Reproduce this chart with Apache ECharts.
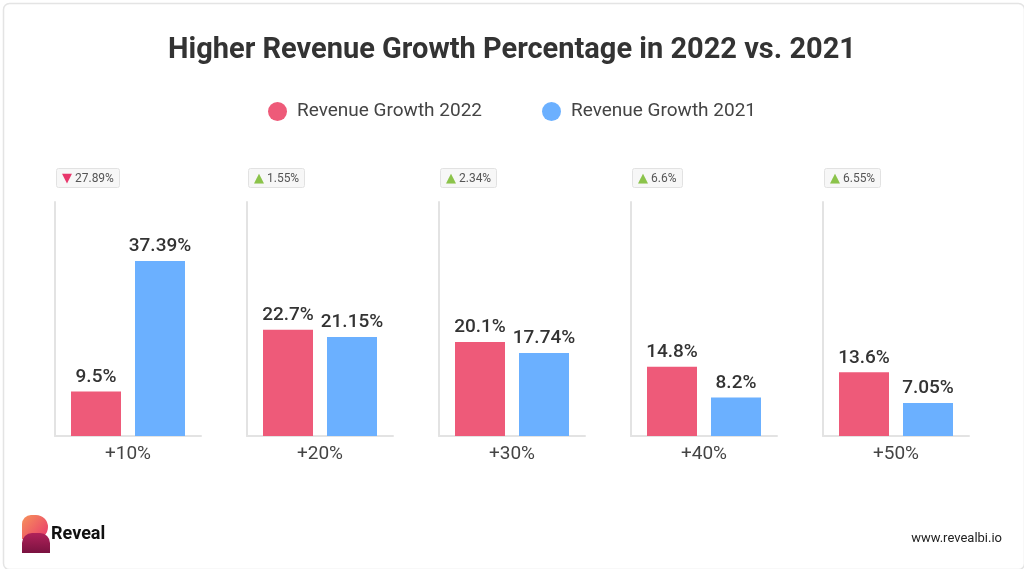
<!DOCTYPE html>
<html><head><meta charset="utf-8">
<script src="https://cdn.jsdelivr.net/npm/echarts@6/dist/echarts.min.js"></script>
<style>html,body{margin:0;padding:0;background:#fff}#c{width:1024px;height:569px}</style>
</head><body><div id="c"></div>
<script>
var categories = ['+10%', '+20%', '+30%', '+40%', '+50%'];
var growth2022 = [9.5, 22.7, 20.1, 14.8, 13.6];
var growth2021 = [37.39, 21.15, 17.74, 8.2, 7.05];
var changeValues = ['27.89%', '1.55%', '2.34%', '6.6%', '6.55%'];
var changeDir = ['down', 'up', 'up', 'up', 'up'];
var seriesNames = ['Revenue Growth 2022', 'Revenue Growth 2021'];
var PINK = '#EE5A79', BLUE = '#6BB0FF';

var chart = echarts.init(document.getElementById('c'));
var grids = [], xAxes = [], yAxes = [], series = [], titles = [];
titles.push({
  text: 'Higher Revenue Growth Percentage in 2022 vs. 2021',
  left: 'center', top: 31,
  textStyle: {fontFamily: 'Roboto', fontSize: 29, fontWeight: 'bold', color: '#333'}
});
for (var i = 0; i < categories.length; i++) {
  var left = 55 + 192 * i;
  grids.push({left: left, width: 146, top: 202, height: 234});
  xAxes.push({
    type: 'category', gridIndex: i, data: [categories[i]],
    axisLine: {show: true, lineStyle: {color: '#e3e3e3', width: 2}},
    axisTick: {show: false},
    axisLabel: {fontFamily: 'Roboto', fontSize: 19, color: '#444', margin: 9}
  });
  yAxes.push({
    type: 'value', gridIndex: i, min: 0, max: 50,
    axisLine: {show: true, lineStyle: {color: '#e3e3e3', width: 2}},
    axisTick: {show: false}, axisLabel: {show: false}, splitLine: {show: false}
  });
  var lbl = {show: true, position: 'top', distance: 5, fontFamily: 'Roboto', fontSize: 19,
    fontWeight: 500, color: '#333', formatter: '{c}%'};
  series.push({
    name: seriesNames[0], type: 'bar', xAxisIndex: i, yAxisIndex: i,
    data: [growth2022[i]], barWidth: 50, barGap: '28%',
    itemStyle: {color: PINK}, label: lbl
  });
  series.push({
    name: seriesNames[1], type: 'bar', xAxisIndex: i, yAxisIndex: i,
    data: [growth2021[i]], barWidth: 50, barGap: '28%',
    itemStyle: {color: BLUE}, label: lbl
  });
  var dir = changeDir[i];
  titles.push({
    text: (dir === 'down' ? '{down|▼}' : '{up|▲}') + '{v| ' + changeValues[i] + '}',
    left: left + 1, top: 168,
    backgroundColor: '#f7f7f7', borderColor: '#e2e2e2', borderWidth: 1, borderRadius: 2,
    padding: [4, 6, 3, 6],
    textStyle: {
      fontWeight: 'normal',
      rich: {
        down: {color: '#E8366B', fontSize: 13, fontFamily: 'DejaVu Sans', fontWeight: 'normal'},
        up: {color: '#8BC34A', fontSize: 13, fontFamily: 'DejaVu Sans', fontWeight: 'normal'},
        v: {color: '#555', fontSize: 12, fontFamily: 'Roboto', fontWeight: 'normal'}
      }
    }
  });
}

chart.setOption({
  animation: false,
  title: titles,
  legend: {
    top: 97, left: 'center', itemGap: 60, itemWidth: 19, itemHeight: 19,
    icon: 'circle', data: seriesNames,
    textStyle: {fontFamily: 'Roboto', fontSize: 19, color: '#444', padding: [0, 0, 0, 5]}
  },
  grid: grids, xAxis: xAxes, yAxis: yAxes, series: series,
  graphic: [
    {type: 'rect', left: 1, top: 1, shape: {width: 1021, height: 566, r: 6},
     style: {fill: 'none', stroke: '#e4e4e4', lineWidth: 1.5}, silent: true},
    {type: 'rect', left: 22, top: 515, shape: {width: 26, height: 24, r: [9, 12, 12, 0]},
     style: {fill: new echarts.graphic.LinearGradient(0, 0, 1, 1, [
       {offset: 0, color: '#F7935A'}, {offset: 1, color: '#E8386E'}])}},
    {type: 'rect', left: 22, top: 533, shape: {width: 28, height: 20, r: [10, 10, 0, 0]},
     style: {fill: new echarts.graphic.LinearGradient(0, 0, 0, 1, [
       {offset: 0, color: '#B0225A'}, {offset: 1, color: '#7A1240'}])}},
    {type: 'text', left: 51, top: 525,
     style: {text: 'Reveal', fontFamily: 'Roboto', fontWeight: 'bold', fontSize: 18, fill: '#111'}},
    {type: 'text', right: 22, top: 532,
     style: {text: 'www.revealbi.io', fontFamily: 'Roboto', fontSize: 13, fill: '#222'}}
  ]
});
</script></body></html>
